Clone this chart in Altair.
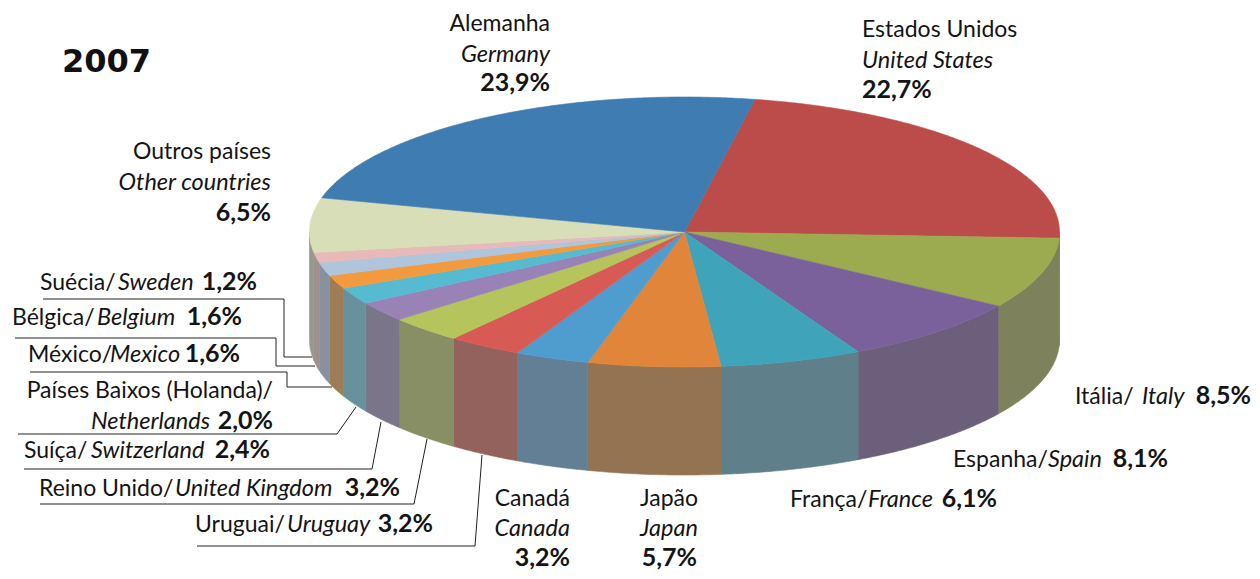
import math
import altair as alt
import pandas as pd

# ---- chart values (clockwise from the Estados Unidos slice) ----
names = ["Estados Unidos", "Itália", "Espanha", "França", "Japão", "Canadá", "Uruguai",
         "Reino Unido", "Suíça", "Países Baixos", "México", "Bélgica", "Suécia",
         "Outros países", "Alemanha"]
shares = [22.7, 8.5, 8.1, 6.1, 5.7, 3.2, 3.2, 3.2, 2.4, 2.0, 1.6, 1.6, 1.2, 6.5, 23.9]
top_colors = ["#bc4c4a", "#9cab4f", "#7b619c", "#3fa3b9", "#e0853a", "#4f9dcf", "#d85a55",
              "#b5c55c", "#9882b6", "#56bbd0", "#f49a3e", "#aec5dc", "#e7b9b9", "#d8deb7", "#3e7cb1"]
side_colors = ["#a85a55", "#7d825c", "#6c5f7b", "#5f7f8b", "#937351", "#637f95", "#93625c",
               "#888f65", "#7a7589", "#67919c", "#9e7d56", "#87919f", "#a0908f", "#97988a", "#5a7a95"]

# ---- pie projection ----
CX, CY, RX, RY, DEPTH, START = 684.5, 232, 375, 135, 108, 10.8
TOTAL = sum(shares)


def pt(deg, drop=0):
    r = math.radians(deg)
    return CX + RX * math.sin(r), CY - RY * math.cos(r) + drop


def arc(a, b):
    n = max(2, int(abs(b - a)) * 2 + 2)
    return [a + (b - a) * i / (n - 1) for i in range(n)]


rows = []
angle = START
for name, share, tc, sc in zip(names, shares, top_colors, side_colors):
    a0, a1 = angle, angle + share * 360 / TOTAL
    angle = a1
    # side wall: only the part between 90 and 270 degrees faces the viewer
    lo, hi = max(a0, 90), min(a1, 270)
    if hi > lo:
        f = arc(lo, hi)
        poly = [pt(d) for d in f] + [pt(d, DEPTH) for d in reversed(f)]
        poly.append(poly[0])
        for i, (x, y) in enumerate(poly):
            rows.append(dict(key="side " + name, layer=0, order=i, x=x, y=y, color=sc))
    poly = [(CX, CY)] + [pt(d) for d in arc(a0, a1)] + [(CX, CY)]
    for i, (x, y) in enumerate(poly):
        rows.append(dict(key="top " + name, layer=1, order=i, x=x, y=y, color=tc))
geo = pd.DataFrame(rows)

xs = alt.Scale(domain=[8, 1252], range=[0, 1244])
ys = alt.Scale(domain=[8, 571], range=[0, 563])
X = alt.X("x:Q", scale=xs, axis=None)
Y = alt.Y("y:Q", scale=ys, axis=None)

keys = list(dict.fromkeys(geo["key"]))
cols = [geo[geo["key"] == k]["color"].iloc[0] for k in keys]
pie_layers = []
for lay in (0, 1):
    d = geo[geo["layer"] == lay]
    pie_layers.append(
        alt.Chart(d).mark_line(interpolate="linear", strokeWidth=0.6, strokeJoin="round").encode(
            x=X, y=Y, order="order:Q",
            fill=alt.Fill("key:N", scale=alt.Scale(domain=keys, range=cols), legend=None),
            stroke=alt.Stroke("key:N", scale=alt.Scale(domain=keys, range=cols), legend=None),
        )
    )

# ---- leader lines: polylines per label ----
leaders = {
    "Suécia": [(43, 299), (284, 299), (284, 357), (312, 357)],
    "Bélgica": [(15, 338), (276, 338), (276, 366), (315, 366)],
    "México": [(30, 372), (287, 372), (287, 387), (332, 387)],
    "Países Baixos": [(18, 434), (337, 434), (356, 407)],
    "Suíça": [(24, 469), (372, 469), (381, 422)],
    "Reino Unido": [(40, 504), (414, 504), (427, 439)],
    "Uruguai": [(197, 546), (475, 546), (482, 455)],
}
lead = pd.DataFrame([dict(k=k, order=i, x=p[0], y=p[1]) for k, v in leaders.items() for i, p in enumerate(v)])
lead_layer = alt.Chart(lead).mark_line(color="#222222", strokeWidth=1).encode(
    x=X, y=Y, order="order:Q", detail="k:N")

# ---- text runs: text, x, baseline, style, align ----
R, I, B = ("normal", "normal", 23), ("italic", "normal", 23.5), ("normal", "bold", 25)
runs = [
    ("Alemanha", 550, 31, R, "right"), ("Germany", 550, 62, I, "right"), ("23,9%", 550, 91, B, "right"),
    ("Estados Unidos", 862, 37, R, "left"), ("United States", 862, 68, I, "left"), ("22,7%", 862, 98, B, "left"),
    ("Outros países", 271, 159, R, "right"), ("Other countries", 271, 190, I, "right"), ("6,5%", 271, 221, B, "right"),
    ("Suécia/", 40, 290, R, "left"), ("Sweden", 118, 290, I, "left"), ("1,2%", 257, 290, B, "right"),
    ("Bélgica/", 12, 325, R, "left"), ("Belgium", 97, 325, I, "left"), ("1,6%", 242, 325, B, "right"),
    ("México/", 28, 362, R, "left"), ("Mexico", 110, 362, I, "left"), ("1,6%", 240, 362, B, "right"),
    ("Países Baixos (Holanda)/", 273, 398, R, "right"),
    ("Netherlands", 91, 429, I, "left"), ("2,0%", 273, 429, B, "right"),
    ("Suíça/", 24, 458, R, "left"), ("Switzerland", 91, 458, I, "left"), ("2,4%", 270, 458, B, "right"),
    ("Reino Unido/", 39, 496, R, "left"), ("United Kingdom", 175, 496, I, "left"), ("3,2%", 400, 496, B, "right"),
    ("Uruguai/", 195, 532, R, "left"), ("Uruguay", 287, 532, I, "left"), ("3,2%", 433, 532, B, "right"),
    ("Canadá", 570, 506, R, "right"), ("Canada", 570, 536, I, "right"), ("3,2%", 570, 566, B, "right"),
    ("Japão", 698, 506, R, "right"), ("Japan", 698, 536, I, "right"), ("5,7%", 697, 566, B, "right"),
    ("França/", 790, 507, R, "left"), ("France", 868, 507, I, "left"), ("6,1%", 997, 507, B, "right"),
    ("Espanha/", 953, 467, R, "left"), ("Spain", 1048, 467, I, "left"), ("8,1%", 1168, 467, B, "right"),
    ("Itália/", 1075, 404, R, "left"), ("Italy", 1142, 404, I, "left"), ("8,5%", 1251, 404, B, "right"),
]
text_df = pd.DataFrame([dict(t=t, x=x, y=y, fs=s[0], fw=s[1], size=s[2], al=a) for t, x, y, s, a in runs])
text_layers = []
for (fs, fw, size, al), d in text_df.groupby(["fs", "fw", "size", "al"]):
    text_layers.append(
        alt.Chart(d).mark_text(font="Lato", fontSize=size, fontStyle=fs, fontWeight=fw, align=al,
                               baseline="alphabetic", color="#141414").encode(x=X, y=Y, text="t:N")
    )

title = alt.Chart(pd.DataFrame([dict(t="2007", x=62, y=72)])).mark_text(
    font="DejaVu Sans", fontSize=32, fontWeight="bold", align="left", baseline="alphabetic", color="#111111"
).encode(x=X, y=Y, text="t:N")

chart = alt.layer(*pie_layers, lead_layer, *text_layers, title).properties(
    width=1244, height=563, padding=0, autosize=alt.AutoSizeParams(type="none"), background="white"
).configure_view(stroke=None)

chart.save("out.html", embed_options={"renderer": "svg", "actions": False})
